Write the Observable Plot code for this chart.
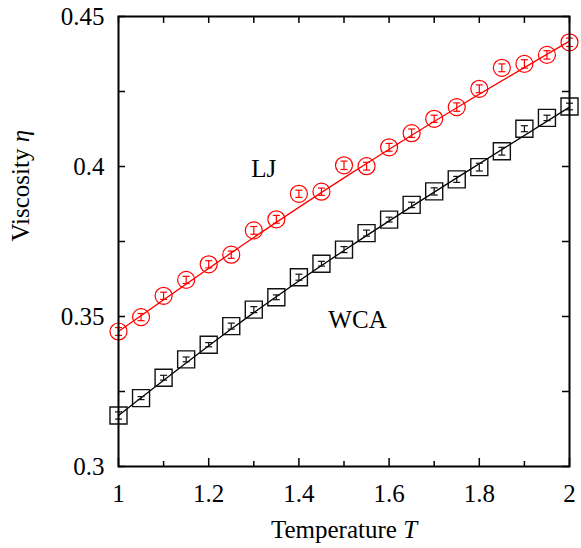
<!DOCTYPE html>
<html>
<head>
<meta charset="utf-8">
<script src="https://cdn.jsdelivr.net/npm/d3@7"></script>
<script src="https://cdn.jsdelivr.net/npm/@observablehq/plot@0.6"></script>
<style>
  html, body { margin: 0; padding: 0; background: #fff; }
</style>
</head>
<body>
<div id="chart"></div>
<script>
// Data
const temps = [1.00,1.05,1.10,1.15,1.20,1.25,1.30,1.35,1.40,1.45,1.50,1.55,1.60,1.65,1.70,1.75,1.80,1.85,1.90,1.95,2.00];
const etaLJ = [0.3450,0.3498,0.3569,0.3622,0.3674,0.3706,0.3787,0.3824,0.3909,0.3916,0.4004,0.4001,0.4064,0.4111,0.4159,0.4198,0.4259,0.4329,0.4342,0.4372,0.4414];
const errLJ = [0.0013,0.0012,0.0012,0.0012,0.0012,0.0012,0.0013,0.0013,0.0012,0.0012,0.0014,0.0013,0.0013,0.0014,0.0012,0.0014,0.0013,0.0013,0.0014,0.0014,0.0014];
const etaWCA = [0.3170,0.3228,0.3296,0.3357,0.3406,0.3468,0.3523,0.3564,0.3631,0.3676,0.3723,0.3778,0.3823,0.3872,0.3917,0.3957,0.3998,0.4051,0.4126,0.4162,0.4200];
const errWCA = [0.0012,0.0005,0.0008,0.0008,0.0007,0.0010,0.0010,0.0008,0.0010,0.0008,0.0010,0.0010,0.0008,0.0009,0.0012,0.0010,0.0013,0.0013,0.0010,0.0009,0.0011];

const fitT = [1.00,1.25,1.50,1.75,2.00];
const fitLJ = [0.3450,0.3712,0.3962,0.4196,0.4418];
const fitWCA = [0.3170,0.3458,0.3720,0.3962,0.4198];

const xLabelTicks = [1,1.2,1.4,1.6,1.8,2];
const xMinorTicks = [1.1,1.3,1.5,1.7,1.9];
const yLabelTicks = [0.3,0.35,0.4,0.45];
const yMinorTicks = [0.325,0.375,0.425];

const seriesNames = ["LJ","WCA"];
const seriesLabelT = [1.322,1.53];
const seriesLabelEta = [0.3993,0.3487];

const xTitle = "Temperature T";
const yTitle = "Viscosity η";

// Build tables
const lj = temps.map((t,i)=>({T:t, eta:etaLJ[i], lo:etaLJ[i]-errLJ[i], hi:etaLJ[i]+errLJ[i]}));
const wca = temps.map((t,i)=>({T:t, eta:etaWCA[i], lo:etaWCA[i]-errWCA[i], hi:etaWCA[i]+errWCA[i]}));
const fLJ = fitT.map((t,i)=>({T:t, eta:fitLJ[i]}));
const fWCA = fitT.map((t,i)=>({T:t, eta:fitWCA[i]}));
const labels = seriesNames.map((n,i)=>({name:n, T:seriesLabelT[i], eta:seriesLabelEta[i]}));

const W = 581, H = 548;
const mT = 16, mR = 12, mB = 82, mL = 118;
const innerW = W - mL - mR, innerH = H - mT - mB;
const font = "'Liberation Serif', 'DejaVu Serif', serif";
const fs = 25;

const capSymbol = {
  draw(context, size) {
    const r = Math.sqrt(size / Math.PI);
    context.moveTo(-r, 0);
    context.lineTo(r, 0);
  }
};

function series(data, color, symbol, r, sw) {
  return [
    Plot.link(data, {x1:"T", x2:"T", y1:"lo", y2:"hi", stroke: color, strokeWidth: 1.2}),
    Plot.dot(data, {x:"T", y:"lo", symbol: capSymbol, r: 3.5, stroke: color, fill: "none", strokeWidth: 1.2}),
    Plot.dot(data, {x:"T", y:"hi", symbol: capSymbol, r: 3.5, stroke: color, fill: "none", strokeWidth: 1.2}),
    Plot.dot(data, {x:"T", y:"eta", symbol, r, stroke: color, fill: "none", strokeWidth: sw})
  ];
}

const plot = Plot.plot({
  width: W, height: H,
  marginTop: mT, marginRight: mR, marginBottom: mB, marginLeft: mL,
  style: {fontFamily: font, fontSize: fs + "px", background: "#fff", color: "#000"},
  x: {domain: [1, 2]},
  y: {domain: [0.3, 0.45]},
  marks: [
    Plot.line(fLJ, {x:"T", y:"eta", curve:"natural", stroke:"#ff0000", strokeWidth:1.3}),
    Plot.line(fWCA, {x:"T", y:"eta", curve:"natural", stroke:"#000", strokeWidth:1.3}),
    ...series(lj, "#ff0000", "circle", 8.5, 1.2),
    ...series(wca, "#111", "square", 9.6, 1.4),
    // ticks (inward), bottom/top
    Plot.tickX(xLabelTicks, {x: d=>d, insetTop: innerH - 8, stroke:"#000", strokeWidth:1.5}),
    Plot.tickX(xMinorTicks, {x: d=>d, insetTop: innerH - 5, stroke:"#000", strokeWidth:1.5}),
    Plot.tickX(xLabelTicks, {x: d=>d, insetBottom: innerH - 7, stroke:"#000", strokeWidth:1.5}),
    Plot.tickX(xMinorTicks, {x: d=>d, insetBottom: innerH - 7, stroke:"#000", strokeWidth:1.5}),
    // ticks left/right
    Plot.tickY(yLabelTicks, {y: d=>d, insetRight: innerW - 7, stroke:"#000", strokeWidth:1.5}),
    Plot.tickY(yMinorTicks, {y: d=>d, insetRight: innerW - 7, stroke:"#000", strokeWidth:1.5}),
    Plot.tickY(yLabelTicks, {y: d=>d, insetLeft: innerW - 7, stroke:"#000", strokeWidth:1.5}),
    Plot.tickY(yMinorTicks, {y: d=>d, insetLeft: innerW - 7, stroke:"#000", strokeWidth:1.5}),
    Plot.axisX(xLabelTicks, {tickSize: 0, tickPadding: 18, tickFormat: d=>String(d), fontSize: fs, fontFamily: font, label: null}),
    Plot.axisY(yLabelTicks, {tickSize: 0, tickPadding: 14, tickFormat: d=>String(d), fontSize: fs, fontFamily: font, label: null}),
    Plot.text(labels, {x:"T", y:"eta", text:"name", fontSize: fs, fontFamily: font, fill:"#000"}),
    Plot.text([xTitle], {frameAnchor:"bottom", dy: 71, text: d=>d, fontSize: fs, fontFamily: font, fill:"#000"}),
    Plot.text([yTitle], {frameAnchor:"left", dx: -98, rotate: -90, text: d=>d, fontSize: fs, fontFamily: font, fill:"#000"}),
    Plot.frame({stroke:"#000", strokeWidth: 2})
  ]
});

// italicize the math symbols in the axis titles
d3.select(plot).selectAll("text").each(function() {
  const t = this.textContent;
  if (t === xTitle || t === yTitle) {
    const sym = t.slice(-1);
    const base = t.slice(0, -1);
    const el = d3.select(this);
    const tx = el.select("tspan").empty() ? el : el.select("tspan");
    tx.text(null);
    tx.append("tspan").text(base);
    tx.append("tspan").attr("font-style", "italic").text(sym);
  }
});

document.getElementById("chart").appendChild(plot);
</script>
</body>
</html>
